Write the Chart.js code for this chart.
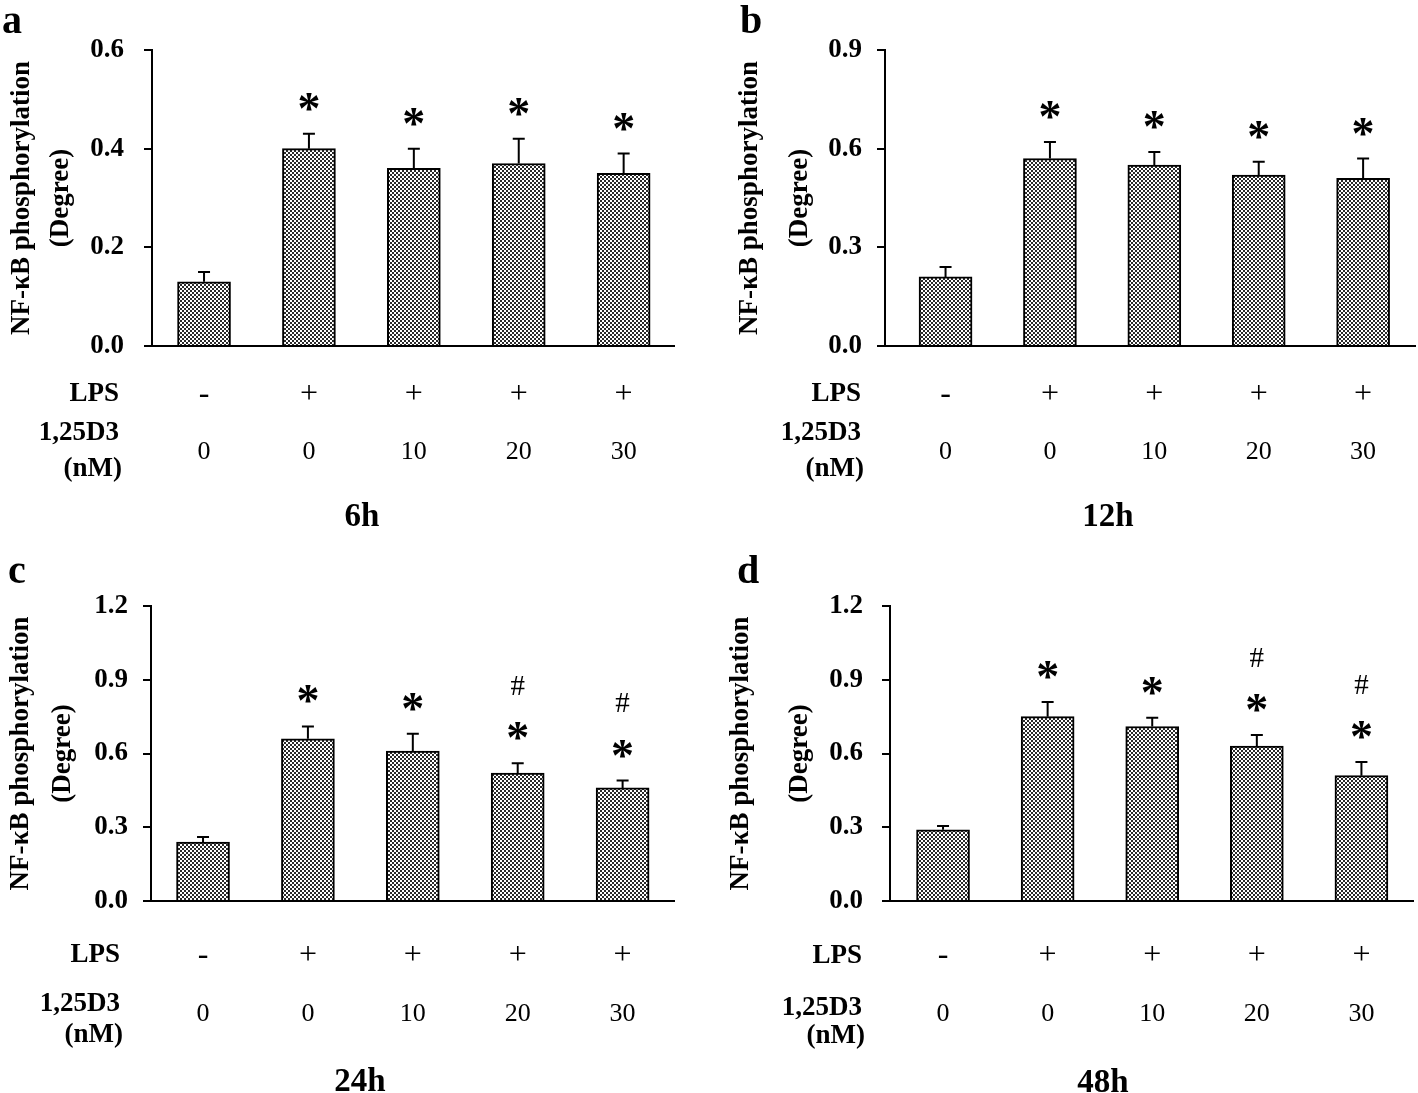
<!DOCTYPE html>
<html>
<head>
<meta charset="utf-8">
<script src="https://cdn.jsdelivr.net/npm/chart.js@4/dist/chart.umd.min.js"></script>
<style>
  html, body { margin: 0; padding: 0; background: #fff; }
  body { width: 1418px; height: 1093px; position: relative; overflow: hidden; }
  .panel { position: absolute; }
</style>
</head>
<body>
<div class="panel" style="left:0;top:0;width:709px;height:546px"><canvas id="chart-a"></canvas></div>
<div class="panel" style="left:709px;top:0;width:709px;height:546px"><canvas id="chart-b"></canvas></div>
<div class="panel" style="left:0;top:546px;width:709px;height:547px"><canvas id="chart-c"></canvas></div>
<div class="panel" style="left:709px;top:546px;width:709px;height:547px"><canvas id="chart-d"></canvas></div>
<script>
// treatment rows under each chart
const lps = ["-", "+", "+", "+", "+"];
const dose = ["0", "0", "10", "20", "30"];

// NF-kB phosphorylation (degree), mean and upper error
const mean6h = [0.13, 0.40, 0.36, 0.37, 0.35];
const err6h = [0.02, 0.03, 0.04, 0.05, 0.04];
const mean12h = [0.21, 0.57, 0.55, 0.52, 0.51];
const err12h = [0.03, 0.05, 0.04, 0.04, 0.06];
const mean24h = [0.24, 0.66, 0.61, 0.52, 0.46];
const err24h = [0.02, 0.05, 0.07, 0.04, 0.03];
const mean48h = [0.29, 0.75, 0.71, 0.63, 0.51];
const err48h = [0.015, 0.06, 0.035, 0.045, 0.055];

// significance marks
const star6h = [false, true, true, true, true];
const star12h = [false, true, true, true, true];
const star24h = [false, true, true, true, true];
const star48h = [false, true, true, true, true];
const hash6h = [false, false, false, false, false];
const hash12h = [false, false, false, false, false];
const hash24h = [false, false, false, true, true];
const hash48h = [false, false, false, true, true];

const yTicks6h = [0, 0.2, 0.4, 0.6];
const yTicks12h = [0, 0.3, 0.6, 0.9];
const yTicks24h = [0, 0.3, 0.6, 0.9, 1.2];
const yTicks48h = [0, 0.3, 0.6, 0.9, 1.2];

const FONT = "'Liberation Serif', 'Times New Roman', serif";
Chart.defaults.font.family = FONT;
Chart.defaults.color = "#000";

function makePattern() {
  const c = document.createElement("canvas");
  c.width = 4; c.height = 4;
  const g = c.getContext("2d");
  g.fillStyle = "#fff";
  g.fillRect(0, 0, 4, 4);
  g.fillStyle = "#2a2a2a";
  g.fillRect(0, 0, 2, 2);
  g.fillRect(2, 2, 2, 2);
  return g.createPattern(c, "repeat");
}
const checker = makePattern();

function textAt(ctx, str, x, cy, font, align) {
  ctx.font = font;
  ctx.textAlign = align || "center";
  ctx.textBaseline = "alphabetic";
  const m = ctx.measureText(str);
  ctx.fillText(str, x, cy + (m.actualBoundingBoxAscent - m.actualBoundingBoxDescent) / 2);
}

const panels = [
  { id: "chart-a", letter: "a", time: "6h", mean: mean6h, err: err6h, star: star6h, hash: hash6h, yTicks: yTicks6h,
    left: 152, top: 50, right: 35, xH: 200, signOff: 49, doseOff: 106, xMin: 0.504, xMax: 5.48, tickPad: 20,
    titleLh: 38.5, titlePad: 3,
    letterX: 2, letterY: 33, rowX: 119, lpsY: 392, d3Y: 433, nmY: 469, timeX: 362, timeY: 514 },
  { id: "chart-b", letter: "b", time: "12h", mean: mean12h, err: err12h, star: star12h, hash: hash12h, yTicks: yTicks12h,
    left: 176, top: 50, right: 3, xH: 200, signOff: 49, doseOff: 106, xMin: 0.42, xMax: 5.497, tickPad: 15,
    titleLh: 50, titlePad: 16,
    letterX: 31, letterY: 33, rowX: 152, lpsY: 392, d3Y: 433, nmY: 469, timeX: 399, timeY: 514 },
  { id: "chart-c", letter: "c", time: "24h", mean: mean24h, err: err24h, star: star24h, hash: hash24h, yTicks: yTicks24h,
    left: 151, top: 60, right: 35, xH: 192, signOff: 55, doseOff: 113, xMin: 0.504, xMax: 5.49, tickPad: 15,
    titleLh: 42, titlePad: 0,
    letterX: 8, letterY: 37, rowX: 120, lpsY: 407, d3Y: 458, nmY: 489, timeX: 360, timeY: 533 },
  { id: "chart-d", letter: "d", time: "48h", mean: mean48h, err: err48h, star: star48h, hash: hash48h, yTicks: yTicks48h,
    left: 181, top: 60, right: 5, xH: 192, signOff: 55, doseOff: 113, xMin: 0.493, xMax: 5.493, tickPad: 19,
    titleLh: 59, titlePad: 3,
    letterX: 28, letterY: 37, rowX: 153, lpsY: 408, d3Y: 462, nmY: 490, timeX: 394, timeY: 534 }
];

const SIGN_SIZE = 32;
const DOSE_SIZE = 26;
const SIGN_BOX = 72;

const extras = {
  id: "extras",
  afterDatasetsDraw(chart, args, p) {
    const ctx = chart.ctx;
    const xs = chart.scales.x, ys = chart.scales.y;
    ctx.save();
    ctx.strokeStyle = "#000";
    ctx.fillStyle = "#000";
    ctx.lineWidth = 2;
    p.mean.forEach((v, i) => {
      const x = xs.getPixelForValue(i + 1);
      const y0 = ys.getPixelForValue(v);
      const y1 = ys.getPixelForValue(v + p.err[i]);
      ctx.beginPath();
      ctx.moveTo(x, y0);
      ctx.lineTo(x, y1);
      ctx.moveTo(x - 6, y1);
      ctx.lineTo(x + 6, y1);
      ctx.stroke();
      const sy = y1 - 32;
      if (p.star[i]) textAt(ctx, "*", x, sy, "bold 46px " + FONT);
      if (p.hash[i]) textAt(ctx, "#", x, sy - 46, "29px " + FONT);
    });
    ctx.restore();
  },
  afterDraw(chart, args, p) {
    const ctx = chart.ctx;
    ctx.save();
    ctx.fillStyle = "#000";
    ctx.font = "bold 40px " + FONT;
    ctx.textAlign = "left";
    ctx.textBaseline = "alphabetic";
    ctx.fillText(p.letter, p.letterX, p.letterY);
    textAt(ctx, "LPS", p.rowX, p.lpsY, "bold 27px " + FONT, "right");
    textAt(ctx, "1,25D3", p.rowX, p.d3Y, "bold 27px " + FONT, "right");
    textAt(ctx, "(nM)", p.rowX + 3, p.nmY, "bold 27px " + FONT, "right");
    textAt(ctx, p.time, p.timeX, p.timeY, "bold 33px " + FONT);
    ctx.restore();
  }
};

panels.forEach((p) => {
  const fiveTicks = (s) => { s.ticks = p.mean.map((v, i) => ({ value: i + 1 })); };
  new Chart(document.getElementById(p.id), {
    type: "bar",
    data: {
      datasets: [{
        data: p.mean.map((v, i) => ({ x: i + 1, y: v })),
        backgroundColor: checker,
        borderColor: "#000",
        borderWidth: 2,
        barThickness: 53
      }]
    },
    options: {
      responsive: true,
      maintainAspectRatio: false,
      animation: false,
      layout: { padding: { left: 0, top: p.top, right: p.right, bottom: 0 } },
      plugins: { legend: { display: false }, tooltip: { enabled: false }, extras: p },
      scales: {
        x: {
          type: "linear",
          position: "bottom",
          offset: false,
          min: p.xMin,
          max: p.xMax,
          afterBuildTicks: fiveTicks,
          afterFit: (s) => { s.height = SIGN_BOX; },
          grid: { display: false, drawTicks: false, offset: false },
          border: { display: true, color: "#000", width: 2 },
          ticks: {
            padding: p.signOff - SIGN_SIZE / 2,
            font: { size: SIGN_SIZE, lineHeight: 1 },
            callback: (v) => lps[v - 1]
          }
        },
        xDose: {
          type: "linear",
          position: "bottom",
          offset: false,
          min: p.xMin,
          max: p.xMax,
          afterBuildTicks: fiveTicks,
          afterFit: (s) => { s.height = p.xH - SIGN_BOX; },
          grid: { display: false, drawTicks: false, offset: false },
          border: { display: false },
          ticks: {
            padding: p.doseOff - SIGN_BOX - DOSE_SIZE / 2,
            font: { size: DOSE_SIZE, lineHeight: 1 },
            callback: (v) => dose[v - 1]
          }
        },
        y: {
          min: 0,
          max: p.yTicks[p.yTicks.length - 1],
          afterBuildTicks: (s) => { s.ticks = p.yTicks.map((v) => ({ value: v })); },
          afterFit: (s) => { s.width = p.left; },
          grid: { drawOnChartArea: false, drawTicks: true, tickLength: 8, color: "#000", lineWidth: 2 },
          border: { display: true, color: "#000", width: 2 },
          ticks: {
            padding: p.tickPad,
            font: { size: 27, weight: "bold" },
            callback: (v) => v.toFixed(1)
          },
          title: {
            display: true,
            text: ["NF-\u03BAB phosphorylation", "(Degree)"],
            font: { size: 27, weight: "bold", lineHeight: p.titleLh / 27 },
            padding: { top: p.titlePad, bottom: 0 }
          }
        }
      }
    },
    plugins: [extras]
  });
});
</script>
</body>
</html>
